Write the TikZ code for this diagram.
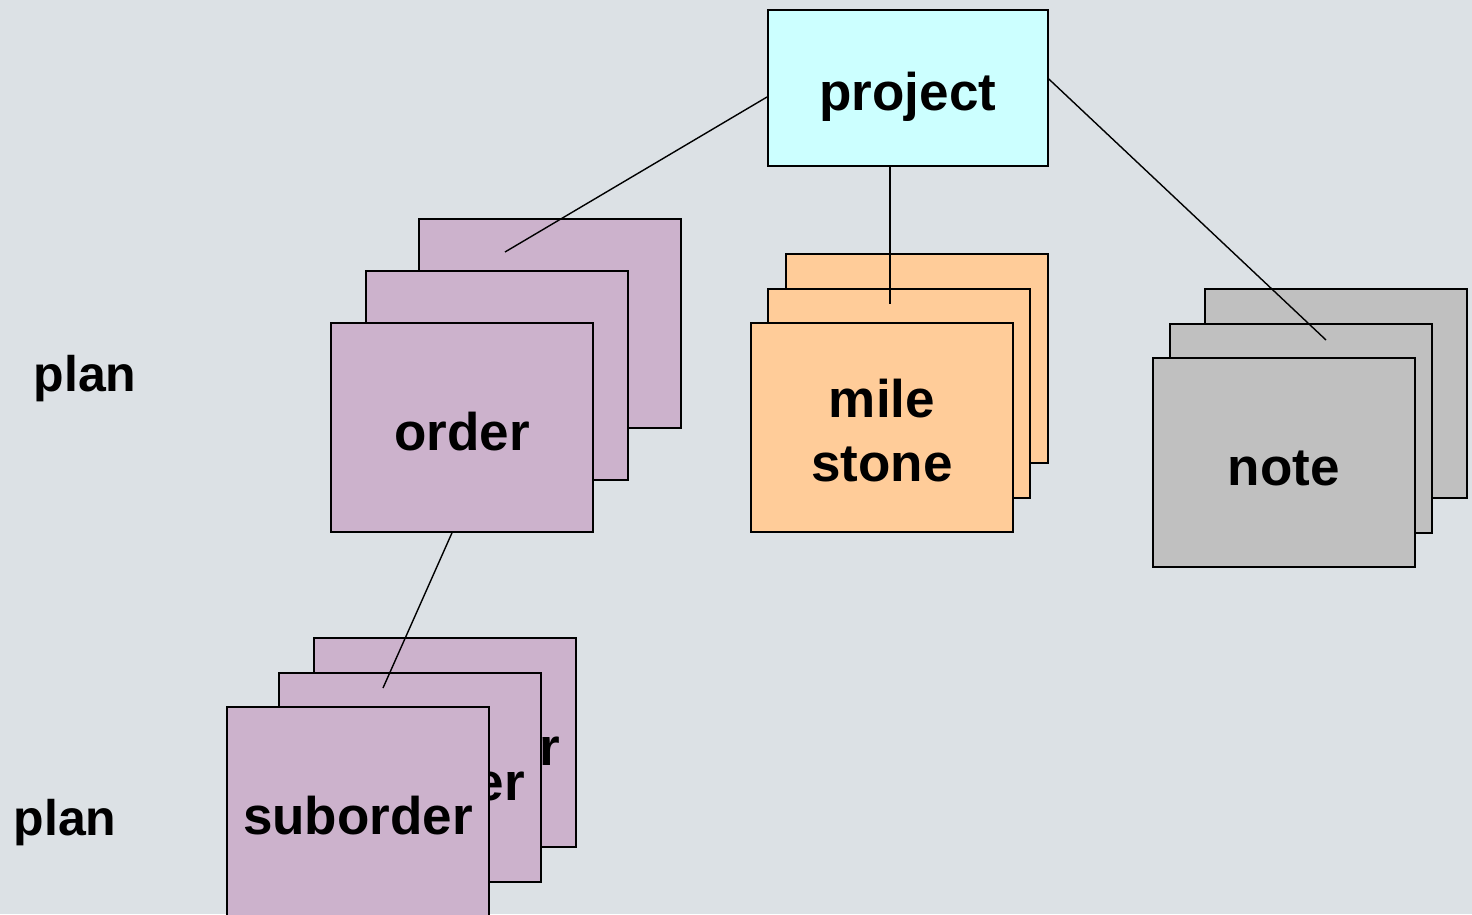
\documentclass[tikz,border=0pt]{standalone}
\usepackage{fontspec}
\setmainfont{Liberation Sans}
\definecolor{bgc}{RGB}{220,225,229}
\definecolor{projc}{RGB}{204,255,255}
\definecolor{ordc}{RGB}{204,178,204}
\definecolor{milec}{RGB}{255,204,153}
\definecolor{notec}{RGB}{192,192,192}
\begin{document}
\begin{tikzpicture}[x=1pt,y=-1pt,
  card/.style={draw=black, line width=1.8pt, minimum width=262pt, minimum height=209pt,
    anchor=north west, inner sep=0pt, align=center, text height=46pt, text depth=0pt,
    font=\fontsize{53}{64}\selectfont\bfseries},
  link/.style={draw=black, line width=1.4pt},
  lbl/.style={font=\fontsize{50}{60}\selectfont\bfseries, text depth=0pt}]
\clip (0,0) rectangle (1472,914);
\fill[bgc] (0,0) rectangle (1472,914);

% project root
\node[card, fill=projc, minimum width=280pt, minimum height=156pt] (proj) at (767,9) {project};

% stack of orders
\node[card, fill=ordc] (ord3) at (418,218) {};
\node[card, fill=ordc] (ord2) at (365,270) {};
\node[card, fill=ordc] (ord1) at (330,322) {order};

% stack of milestones
\node[card, fill=milec] (mil3) at (785,253) {};
\node[card, fill=milec] (mil2) at (767,288) {};
\node[card, fill=milec, text height=109pt] (mil1) at (750,322) {mile\\stone};

% stack of notes
\node[card, fill=notec] (not3) at (1204,288) {};
\node[card, fill=notec] (not2) at (1169,323) {};
\node[card, fill=notec] (not1) at (1152,357) {note};

% stack of suborders
\node[card, fill=ordc] (sub3) at (313,637) {suborder};
\node[card, fill=ordc] (sub2) at (278,672) {suborder};
\node[card, fill=ordc] (sub1) at (226,706) {suborder};

% level labels
\node[lbl] (plan1) at (85,373) {plan};
\node[lbl] (plan2) at (65,817) {plan};

% connector ends
\coordinate (eord) at (505,252);
\coordinate (emil) at (890,304);
\coordinate (enot) at (1326,340);
\coordinate (esub) at (383,688);

\draw[link] (proj.west |- 0,97) -- (eord);
\draw[link] (890,0 |- proj.south) -- (emil);
\draw[link] (proj.east |- 0,79) -- (enot);
\draw[link] (452,0 |- ord1.south) -- (esub);
\end{tikzpicture}
\end{document}
